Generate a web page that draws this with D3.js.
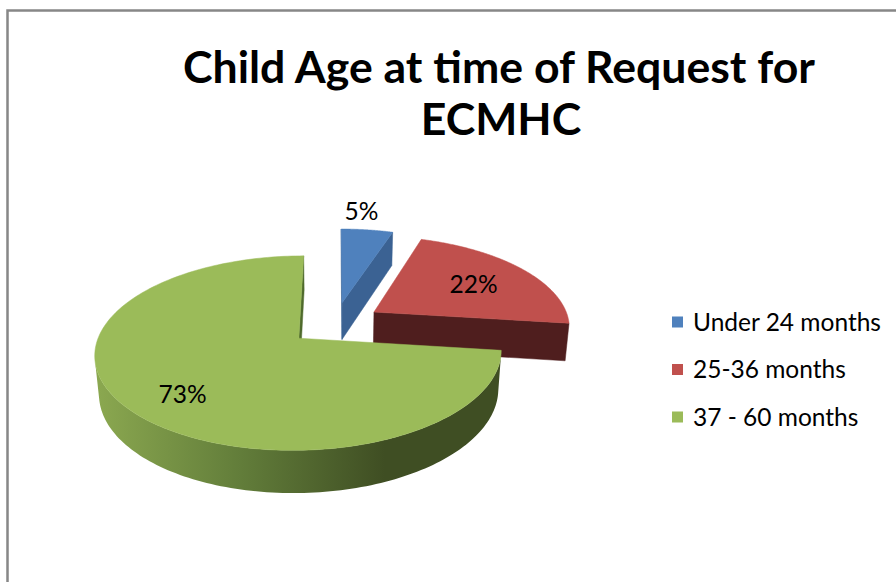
<!DOCTYPE html>
<html><head><meta charset="utf-8">
<script src="https://cdn.jsdelivr.net/npm/d3@7"></script>
<style>body{margin:0;background:#fff} svg{display:block}</style>
</head><body><svg id="c" width="896" height="582"></svg>
<script>
const titleLines = ["Child Age at time of Request for", "ECMHC"];
const categories = ["Under 24 months", "25-36 months", "37 - 60 months"];
const values = [5, 22, 73];
const labels = ["5%", "22%", "73%"];
const topColors = ["#4F81BD", "#C0504D", "#9BBB59"];
const faceColors = ["#3B6293", "#4F1E1E", "#4F6A2C"];

const svg = d3.select("#c");
const FONT = "Lato, 'Open Sans', sans-serif";

// frame
svg.append("path").attr("d", "M7.5,582 V10.5 H896")
  .attr("fill", "none").attr("stroke", "#878787").attr("stroke-width", 2.5);

// gradient for green side
const defs = svg.append("defs");
const g0 = defs.append("linearGradient").attr("id", "gside")
  .attr("gradientUnits", "userSpaceOnUse").attr("x1", 96).attr("x2", 385).attr("y1", 0).attr("y2", 0);
g0.append("stop").attr("offset", 0).attr("stop-color", "#8BA850");
g0.append("stop").attr("offset", 0.5).attr("stop-color", "#627D3A");
g0.append("stop").attr("offset", 1).attr("stop-color", "#3F4E23");

// 3D perspective projection
const R = 196, cx = 335, cy = 323.5, tilt = 27.5 * Math.PI / 180, Ld = 5.93, thick = 0.22, explode = 0.24;
const ca = Math.cos(tilt), sa = Math.sin(tilt), F = R * Ld;
const cam = [0, Ld * sa, Ld * ca];
function proj(u, h, v) {
  const z = Ld - h * sa - v * ca;
  const yc = h * ca - v * sa;
  return [cx + F * u / z, cy - F * yc / z];
}

const arcs = d3.pie().sort(null).value(d => d)(values);
const slices = arcs.map((a, i) => {
  const mid = (a.startAngle + a.endAngle) / 2;
  return { i, a0: a.startAngle, a1: a.endAngle, mid,
    ou: explode * Math.sin(mid), ov: -explode * Math.cos(mid) };
});
function pt(s, th, rho, h) {
  return proj(s.ou + rho * Math.sin(th), h, s.ov - rho * Math.cos(th));
}
function visible(P, n) {
  return (cam[0] - P[0]) * n[0] + (cam[1] - P[1]) * n[1] + (cam[2] - P[2]) * n[2] > 0;
}
const line = d3.line();

const order = slices.slice().sort((a, b) => a.ov - b.ov);
const gPie = svg.append("g");
order.forEach(s => {
  const i = s.i;
  // radial faces
  [[s.a0, -1], [s.a1, 1]].forEach(([th, sg]) => {
    const n = [sg * Math.cos(th), 0, sg * Math.sin(th)];
    const P = [s.ou, 0, s.ov];
    if (visible(P, n)) {
      const pts = [pt(s, th, 0, 0), pt(s, th, 1, 0), pt(s, th, 1, -thick), pt(s, th, 0, -thick)];
      gPie.append("path").attr("d", line(pts) + "Z").attr("fill", faceColors[i])
        .attr("stroke", faceColors[i]).attr("stroke-width", 0.5);
    }
  });
  // outer side
  const N = 200, topPts = [], botPts = [];
  for (let k = 0; k <= N; k++) {
    const th = s.a0 + (s.a1 - s.a0) * k / N;
    const P = [s.ou + Math.sin(th), 0, s.ov - Math.cos(th)];
    const n = [Math.sin(th), 0, -Math.cos(th)];
    if (visible(P, n)) { topPts.push(pt(s, th, 1, 0)); botPts.push(pt(s, th, 1, -thick)); }
  }
  if (topPts.length > 1) {
    gPie.append("path").attr("d", line(topPts.concat(botPts.reverse())) + "Z")
      .attr("fill", i === 2 ? "url(#gside)" : faceColors[i]);
  }
  // top face
  const tp = [pt(s, 0, 0, 0)];
  for (let k = 0; k <= N; k++) tp.push(pt(s, s.a0 + (s.a1 - s.a0) * k / N, 1, 0));
  gPie.append("path").attr("d", line(tp) + "Z").attr("fill", topColors[i])
    .attr("stroke", topColors[i]).attr("stroke-width", 0.5);
});

// data labels
const labelRho = [1.3, 0.63, 0.7], labelDx = [-12, 4, 0], labelDy = [0, 0, 9];
const lbl = svg.append("g").selectAll("text").data(slices).join("text")
  .attr("font-family", FONT).attr("font-size", 22).attr("fill", "#000")
  .attr("text-anchor", "middle").attr("dy", "0.35em")
  .text(d => labels[d.i])
  .attr("x", d => pt(d, d.mid, labelRho[d.i], 0)[0] + labelDx[d.i])
  .attr("y", d => pt(d, d.mid, labelRho[d.i], 0)[1] + labelDy[d.i]);

// title
const title = svg.append("g").attr("font-family", FONT).attr("font-weight", "bold")
  .attr("text-anchor", "middle").attr("fill", "#000");
const t1 = title.append("text").attr("x", 499).attr("y", 83).attr("font-size", 44).text(titleLines[0]);
let w1 = t1.node().getComputedTextLength();
const tfs = 44 * 632 / w1;
t1.attr("font-size", tfs);
title.append("text").attr("x", 501).attr("y", 135).attr("font-size", tfs).text(titleLines[1]);

// legend
const ly = d3.scalePoint().domain(categories).range([322, 417]);
const leg = svg.append("g");
const legText = leg.selectAll("text").data(categories).join("text")
  .attr("x", 693).attr("y", d => ly(d)).attr("dy", "0.35em")
  .attr("font-family", FONT).attr("font-size", 22).attr("fill", "#000").text(d => d);
const lw = legText.node().getComputedTextLength();
const lfs = 22 * 188 / lw;
legText.attr("font-size", lfs);
lbl.attr("font-size", lfs);
leg.selectAll("rect").data(categories).join("rect")
  .attr("x", 672).attr("y", d => ly(d) - 5.5).attr("width", 11).attr("height", 11)
  .attr("fill", (d, i) => topColors[i]);
</script></body></html>
